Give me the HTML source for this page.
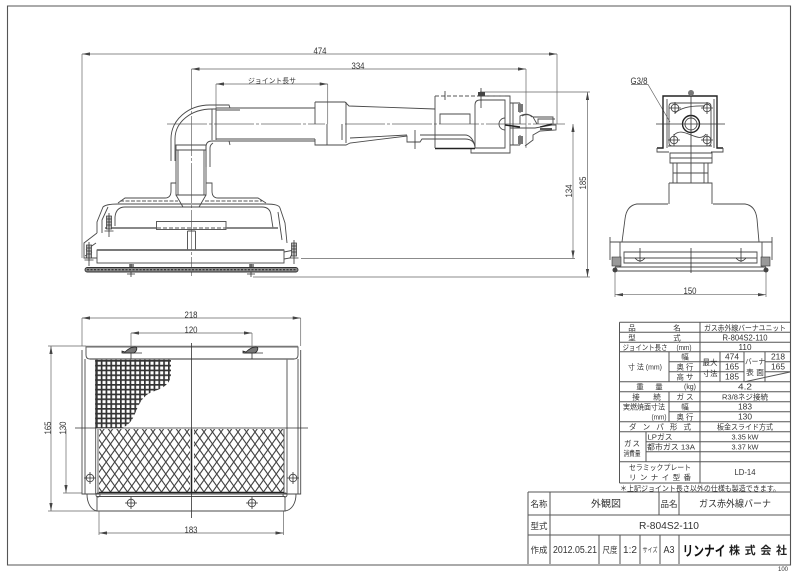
<!DOCTYPE html>
<html lang="ja"><head><meta charset="utf-8"><title>R-804S2-110</title>
<style>
html,body{margin:0;padding:0;background:#fff;width:800px;height:573px;overflow:hidden}
svg{display:block;filter:blur(.3px)}
text{font-family:"Liberation Sans","Noto Sans CJK JP",sans-serif;fill:#333;text-anchor:middle}
.l{fill:none;stroke:#4a4a4a;stroke-width:.9}
.t{fill:none;stroke:#666;stroke-width:.7}
.h{fill:none;stroke:#222;stroke-width:1.4}
.c{fill:none;stroke:#333;stroke-width:.8}
.g{fill:none;stroke:#555;stroke-width:1}
.d{font-size:9px}
.s{font-size:7.5px}
.m{font-size:8.5px}
.a{fill:#444;stroke:none}
</style></head><body>
<svg width="800" height="573" viewBox="0 0 800 573" xmlns="http://www.w3.org/2000/svg">
<defs>
<pattern id="grid" width="4.8" height="4.8" patternUnits="userSpaceOnUse"><rect width="4.8" height="4.8" fill="#fff"/><path d="M0 .8H4.800M.8 0V4.800" stroke="#333" stroke-width="1.8"/></pattern>
<pattern id="dia" width="8.5" height="12" patternUnits="userSpaceOnUse"><rect width="8.5" height="12" fill="#fff"/><path d="M0 0L8.500 12M8.500 0L0 12" stroke="#444" stroke-width="1.1"/></pattern>
<g id="sc"><circle r="3.8" class="l"/><path d="M-6 0H6M0-6V6" class="c"/></g>
<g id="clip"><path d="M-8 3H11" class="c"/><path d="M-6 2C-3-1 0-3 4-3C7-3 6 1 3 3H-9V1Z" fill="#777" stroke="#222" stroke-width=".8"/><path d="M0 3V9" class="c"/></g>
<g id="bolt"><rect x="-2.5" y="0" width="5" height="13" fill="#bbb" stroke="#333" stroke-width=".7"/><path d="M-2.500 3H2.500M-2.500 6H2.500M-2.500 9H2.500M0-3V21M-4.500 15H4.500" class="c"/></g>
</defs>

<!-- frame -->
<path d="M7.500 6H790.500V565H7.500Z" fill="none" stroke="#555" stroke-width="1.1"/>

<!-- FRONT VIEW dimensions -->
<g class="t">
<path d="M82 54H557M82 54V258M557 54V124"/>
<path d="M191.500 69H526M526 69V148"/>
<path d="M216 84H327.700M216 84V108M327.700 84V124"/>
<path d="M480 92H590M587.500 92V277M253 277H590M301 258.500H575M573 124V258.500"/>
</g>
<path class="a" d="M82 54l8-1.600v3.200ZM557 54l-8-1.600v3.200ZM191.500 69l8-1.600v3.200ZM526 69l-8-1.600v3.200ZM216 84l8-1.600v3.200ZM327.700 84l-8-1.600v3.200ZM587.500 92l-1.600 8h3.200ZM587.500 277l-1.600-8h3.200ZM573 124l-1.600 8h3.200ZM573 258.500l-1.600-8h3.200Z"/>
<text class="d" x="320" y="54" textLength="13" lengthAdjust="spacingAndGlyphs">474</text>
<text class="d" x="358" y="69" textLength="13" lengthAdjust="spacingAndGlyphs">334</text>
<text x="272" y="83" textLength="48" lengthAdjust="spacingAndGlyphs" font-size="7">ジョイント長サ</text>
<text class="d" transform="translate(572,191) rotate(-90)" textLength="13" lengthAdjust="spacingAndGlyphs">134</text>
<text class="d" transform="translate(586,183) rotate(-90)" textLength="13" lengthAdjust="spacingAndGlyphs">185</text>

<!-- centerlines front -->
<path class="t" d="M167 124H325M345 124H565M191.500 69V276" stroke-dasharray="40 2 3 2"/>

<!-- Elbow & pipe -->
<g class="l">
<path d="M171 161V139C171 120 188 105 210 105H229L230 108"/>
<path d="M175 161V139C175 122 191 109 212 109H216"/>
<path d="M212 109V140M216 108V140M216 108H315M216 110H240M216 139H315M216 141H315"/>
<path d="M206 167V147C206 143 208 141 212 141H229L230 145"/>
<path d="M210 167V148Q210 145 213 143"/>
<path d="M315 102H345L349 106L435 109M315 102V124M346 102V143M327 124V145M342 124V140"/>
<path d="M315 139V145H346L350 143L407 136V142H420L422 139H465C472 139 475 143 475 148"/>
<path d="M350 138L407 135M420 135H465C470 135 473 139 475 146"/>
<path d="M415 130V149" class="c"/>
</g>
<!-- Gas box -->
<g class="l">
<path d="M435 96V148M440 124V114H470V124"/>
<path d="M477 96H510V153H471V148"/>
<path d="M475 148V105Q475 100 480 100H505V148H475"/>
<path d="M510 103H520M510 145H520M513 103V145M520 103V113M520 135V145"/>
<path d="M505 118A6 6 0 0 0 505 130M520 124V116Q527 112 533 117L537 124M522 116Q528 113 532 117"/>
<path d="M533 117H553V124M538 124V119H555"/>
<path d="M510 128H535L552 125L556 125V130L540 131L533 135V140L525 146"/>
</g>
<path class="h" d="M435 148.500H475"/>
<path class="h" d="M505 125L520 127M540 127L552 124M540 129H552" stroke-width="1.600"/>
<path class="g" d="M435 96H505" stroke-dasharray="4 2"/>
<path class="c" d="M445 91V100M481 88V108"/>
<rect x="478" y="92" width="7" height="4" fill="#444"/>
<g fill="#777"><rect x="518" y="104" width="5" height="8"/><rect x="518" y="136" width="5" height="8"/></g>

<!-- Neck and burner -->
<g class="l">
<path d="M176 145H206V195H176ZM176 150H206M178 150V195M204 150V195"/>
<path d="M176 195L183 207M206 195L199 207"/>
<path d="M97 233V222L103 207Q106 204 118 204H266Q279 204 280 208L285 223L287 243"/>
<path d="M97 233L84 243V258H97"/>
<path d="M118 203L125 198H165Q171 198 171 191V183H176M206 183H212V191Q212 198 218 198H258L266 203"/>
<path d="M115 226V217Q116 207 125 207H262Q270 207 271 215L273 228"/>
<path d="M102 233V220L108 207"/>
<path d="M282 240L278 212"/>
<rect x="156.500" y="221.500" width="69.500" height="8"/>
<path d="M187.500 231V250M195.500 231V250M187.500 231H195.500"/>
<rect x="97" y="250" width="187" height="13"/>
<path d="M284 252L294 250L290 258L284 259"/>
<path d="M86 250L96 243M85 256L92 252"/>
</g>
<path d="M97 250H284" stroke="#666" stroke-width="1.800"/>
<path class="g" d="M120 201H178M205 201H262" stroke-dasharray="4 1.500"/>
<path d="M105 228H156M226 228H278" stroke="#777" stroke-width="1.800"/>
<path class="g" d="M157 228H226" stroke-dasharray="4 2"/>
<use href="#bolt" x="109" y="216"/><use href="#bolt" x="294" y="243"/><use href="#bolt" x="89" y="245"/>
<path d="M129 264h5v8h-5ZM249 264h5v8h-5Z" fill="#888"/>
<path class="c" d="M131 264V277M251 264V277M127 274H135M247 274H255"/>
<rect x="85" y="267.500" width="213" height="4.500" rx="2.200" fill="#8a8a8a" stroke="#333" stroke-width=".9"/>
<path d="M87 269.700H296" stroke="#222" stroke-width="1" stroke-dasharray="2 1.500"/>

<!-- SIDE VIEW -->
<text class="d" x="639" y="84" textLength="17" lengthAdjust="spacingAndGlyphs">G3/8</text>
<path class="t" d="M631 84.500H648L670 122"/>
<path class="h" d="M657 148H663V96H717V148H723"/>
<path class="l" d="M657 148V152H669M723 148V152H711M667 99V148M714 99V148M668 146H712"/>
<rect x="669" y="103" width="42" height="43" rx="3" class="l"/>
<path class="l" d="M675 113Q684 105 705 106M674 135C684 125 698 145 706 134"/>
<circle cx="691" cy="124" r="8.500" class="h"/><circle cx="691" cy="124" r="6" class="l"/>
<path class="c" d="M656 124H725M691 90V183"/>
<use href="#sc" x="675" y="108"/><use href="#sc" x="707" y="108"/><use href="#sc" x="674" y="140"/><use href="#sc" x="707" y="140"/>
<circle cx="691" cy="93" r="3" fill="#777"/>
<path class="l" d="M670 153H712V163H670ZM670 158H712M673 163V183M708 163V183M677 163V183M704 163V183M673 173H708M669 183H712V204M669 183V204"/>
<path class="l" d="M668 204H637C630 205 626 210 625 219L622 242M713 204H745C752 205 756 210 757 219L759 242"/>
<path class="l" d="M610 237V260M772 237V260M610 242H772M624 252V263H757V252ZM624 252H757M624 258H757M615 267H766M615 271H766M620 242V267M762 242V267"/>
<path class="c" d="M640 248V262M741 248V262M691 248V273M635 258Q640 264 645 258M736 258Q741 264 746 258"/>
<g fill="#999" stroke="#333" stroke-width=".6"><rect x="612" y="257" width="9" height="9"/><rect x="761" y="257" width="9" height="9"/></g>
<circle cx="615" cy="270" r="2.500" fill="#444"/><circle cx="766" cy="270" r="2.500" fill="#444"/>
<path class="t" d="M615 272V297M766 272V297M615 294.700H766"/>
<path class="a" d="M615 294.700l8-1.600v3.200ZM766 294.700l-8-1.600v3.200Z"/>
<text class="d" x="690" y="294" textLength="13" lengthAdjust="spacingAndGlyphs">150</text>

<!-- PLAN VIEW -->
<g class="t">
<path d="M82 318H300.700M82 318V346M300.700 318V346"/>
<path d="M131 333H252M131 333V349M252 333V349"/>
<path d="M48 346H86M51 346V511M48 511H97M66 429V493M63 493H82"/>
<path d="M99 511V535M283.500 511V535M99 533H283.500"/>
</g>
<path class="a" d="M82 318l8-1.600v3.200ZM300.700 318l-8-1.600v3.200ZM131 333l8-1.600v3.200ZM252 333l-8-1.600v3.200ZM51 346l-1.600 8h3.200ZM51 511l-1.600-8h3.200ZM66 493l-1.600-8h3.200ZM99 533l8-1.600v3.200ZM283.500 533l-8-1.600v3.200Z"/>
<text class="d" x="191" y="318" textLength="13" lengthAdjust="spacingAndGlyphs">218</text>
<text class="d" x="191" y="333" textLength="13" lengthAdjust="spacingAndGlyphs">120</text>
<text class="d" x="191" y="533" textLength="13" lengthAdjust="spacingAndGlyphs">183</text>
<text class="d" transform="translate(51,428) rotate(-90)" textLength="13" lengthAdjust="spacingAndGlyphs">165</text>
<text class="d" transform="translate(66,428) rotate(-90)" textLength="13" lengthAdjust="spacingAndGlyphs">130</text>

<path d="M95 359H171V375C170 383 165 388 152 392C140 397 138 408 133 418C130 423 127 426 122 428H95Z" fill="url(#grid)"/>
<rect x="99" y="429" width="91" height="64" fill="url(#dia)"/>
<rect x="194" y="429" width="89.500" height="64" fill="url(#dia)"/>
<g class="l">
<path d="M82 350V494H97M85 359V494M300.700 350V494H285M298 359V494"/>
<path d="M86 347H298V355Q298 359 294 359H90Q86 359 86 355Z"/>
<path d="M95.700 359V494M98 429V494M287 359V494M284 429V494"/>
<path d="M97 496.500H285V511H97ZM97 494H285"/>
<path d="M87 494C87 503 91 510 97 511M296 494C296 503 292 510 285 511"/>
</g>
<path d="M86 346.500H298M90 359H294" stroke="#777" stroke-width="1.500"/>
<path class="h" d="M99 492.500H284" stroke-width="1"/>
<path class="c" d="M75 428H308M191.500 343V518"/>
<path d="M191.500 429V493" stroke="#222" stroke-width="1.500"/>
<use href="#clip" x="131" y="350"/><use href="#clip" x="252" y="350"/>
<use href="#sc" x="131" y="503"/><use href="#sc" x="252" y="503"/><use href="#sc" x="90" y="478"/><use href="#sc" x="293" y="478"/>
<circle cx="98" cy="495" r="2" class="l"/><circle cx="285" cy="495" r="2" class="l"/>

<!-- SPEC TABLE -->
<g class="g">
<path d="M619.500 322.300H790M619.500 332.300H790M619.500 342.300H790M619.500 351.700H790M619.500 381.700H790M619.500 391.700H790M619.500 401.700H790M669 411.700H790M619.500 421.700H790M619.500 431.700H790M646 441.700H790M646 451.700H790M619.500 461.700H790M619.500 483H790"/>
<path d="M669 361.700H720M669 371.700H720M720 361.700H744M720 371.700H744M765 361.700H790M765 371.700H790"/>
<path d="M619.500 322.300V483M700 322.300V483M669 351.700V381.700M669 391.700V421.700M646 431.700V461.700M720 351.700V381.700M744 351.700V381.700M765 351.700V381.700M745 381.700L790 372"/>
</g>
<g class="s" style="font-size:7.5px">
<text x="632" y="330.500">品</text><text x="677" y="330.500">名</text>
<text x="745" y="330.500" textLength="82" lengthAdjust="spacingAndGlyphs">ガス赤外線バーナユニット</text>
<text x="632" y="340.500">型</text><text x="677" y="340.500">式</text>
<text class="m" x="745" y="340.500" textLength="45" lengthAdjust="spacingAndGlyphs">R-804S2-110</text>
<text x="645" y="350" textLength="45" lengthAdjust="spacingAndGlyphs">ジョイント長さ</text><text x="684" y="350" textLength="15" lengthAdjust="spacingAndGlyphs">(mm)</text>
<text class="m" x="745" y="350" textLength="13" lengthAdjust="spacingAndGlyphs">110</text>
<text x="645" y="369.500" textLength="34" lengthAdjust="spacingAndGlyphs">寸 法 (mm)</text>
<text x="685" y="359.500">幅</text><text x="685" y="369.500" textLength="17" lengthAdjust="spacingAndGlyphs">奥 行</text><text x="685" y="379.500" textLength="17" lengthAdjust="spacingAndGlyphs">高 サ</text>
<text x="710" y="365">最大</text><text x="710" y="376">寸法</text>
<text class="m" x="732" y="359.500" textLength="14" lengthAdjust="spacingAndGlyphs">474</text>
<text class="m" x="732" y="369.500" textLength="14" lengthAdjust="spacingAndGlyphs">165</text>
<text class="m" x="732" y="379.500" textLength="14" lengthAdjust="spacingAndGlyphs">185</text>
<text x="755" y="364" textLength="20" lengthAdjust="spacingAndGlyphs">バーナ</text><text x="755" y="375" textLength="18" lengthAdjust="spacingAndGlyphs">表 面</text>
<text class="m" x="778" y="359.500" textLength="14" lengthAdjust="spacingAndGlyphs">218</text>
<text class="m" x="778" y="369.500" textLength="14" lengthAdjust="spacingAndGlyphs">165</text>
<text x="640" y="389.500">重</text><text x="659" y="389.500">量</text><text x="690" y="389" textLength="12" lengthAdjust="spacingAndGlyphs">(kg)</text>
<text class="m" x="745" y="389.500" textLength="14" lengthAdjust="spacingAndGlyphs">4.2</text>
<text x="636" y="399.500">接</text><text x="657" y="399.500">続</text><text x="685" y="399.500" textLength="17" lengthAdjust="spacingAndGlyphs">ガ ス</text>
<text x="745" y="399.500" textLength="46" lengthAdjust="spacingAndGlyphs">R3/8ネジ接続</text>
<text x="644" y="409.500" textLength="42" lengthAdjust="spacingAndGlyphs">実燃焼面寸法</text><text x="659" y="419.500" textLength="15" lengthAdjust="spacingAndGlyphs">(mm)</text>
<text x="685" y="409.500">幅</text><text x="685" y="419.500" textLength="17" lengthAdjust="spacingAndGlyphs">奥 行</text>
<text class="m" x="745" y="409.500" textLength="14" lengthAdjust="spacingAndGlyphs">183</text>
<text class="m" x="745" y="419.500" textLength="14" lengthAdjust="spacingAndGlyphs">130</text>
<text x="660" y="429.500" textLength="62" lengthAdjust="spacing">ダンパ形式</text>
<text x="745" y="429.500" textLength="56" lengthAdjust="spacingAndGlyphs">板金スライド方式</text>
<text x="632" y="446" textLength="16" lengthAdjust="spacing">ガ ス</text><text x="632" y="456" textLength="17" lengthAdjust="spacingAndGlyphs">消費量</text>
<text x="660" y="439.500" textLength="25" lengthAdjust="spacingAndGlyphs">LPガス</text>
<text x="671" y="449.500" textLength="48" lengthAdjust="spacingAndGlyphs">都市ガス 13A</text>
<text x="745" y="439.500" textLength="27" lengthAdjust="spacingAndGlyphs">3.35 kW</text>
<text x="745" y="449.500" textLength="27" lengthAdjust="spacingAndGlyphs">3.37 kW</text>
<text x="660" y="470" textLength="62" lengthAdjust="spacingAndGlyphs">セラミックプレート</text>
<text x="660" y="480" textLength="62" lengthAdjust="spacing">リ ン ナ イ 型 番</text>
<text class="m" x="745" y="475" textLength="21" lengthAdjust="spacingAndGlyphs">LD-14</text>
<text x="700" y="491" textLength="160" lengthAdjust="spacingAndGlyphs">＊上記ジョイント長さ以外の仕様も製造できます。</text>
</g>

<!-- TITLE BLOCK -->
<g class="g">
<path d="M528 492H790M528 515H790M528 535H790M528 492V564M550 492V564M659 492V515M679 492V515M599 535V564M620 535V564M640 535V564M660 535V564M679 535V564"/>
</g>
<g font-size="8.500">
<text x="539" y="507" textLength="17" lengthAdjust="spacingAndGlyphs">名称</text>
<text x="606" y="507" textLength="30" font-size="9.500" lengthAdjust="spacingAndGlyphs">外観図</text>
<text x="669" y="507" textLength="17" lengthAdjust="spacingAndGlyphs">品名</text>
<text x="735" y="507" textLength="72" font-size="9.500" lengthAdjust="spacingAndGlyphs">ガス赤外線バーナ</text>
<text x="539" y="529" textLength="17" lengthAdjust="spacingAndGlyphs">型式</text>
<text x="669" y="529" textLength="60" lengthAdjust="spacingAndGlyphs" font-size="10">R-804S2-110</text>
<text x="539" y="553" textLength="17" lengthAdjust="spacingAndGlyphs">作成</text>
<text x="575" y="553" textLength="44" lengthAdjust="spacingAndGlyphs" font-size="10">2012.05.21</text>
<text x="610" y="553" textLength="15" lengthAdjust="spacingAndGlyphs">尺度</text>
<text x="630" y="553" textLength="14" lengthAdjust="spacingAndGlyphs" font-size="10">1:2</text>
<text x="650" y="552" textLength="15" font-size="6.500" lengthAdjust="spacingAndGlyphs">サイズ</text>
<text x="669" y="553" textLength="11" lengthAdjust="spacingAndGlyphs" font-size="10">A3</text>
<text x="704" y="556" textLength="43" font-size="14" font-weight="700" lengthAdjust="spacingAndGlyphs" style="fill:#111">リンナイ</text>
<text x="758" y="554" textLength="58" font-size="11" font-weight="700" style="fill:#222">株式会社</text>
</g>
<text x="783" y="571" font-size="6" textLength="10" lengthAdjust="spacingAndGlyphs">100</text>
</svg>
</body></html>
